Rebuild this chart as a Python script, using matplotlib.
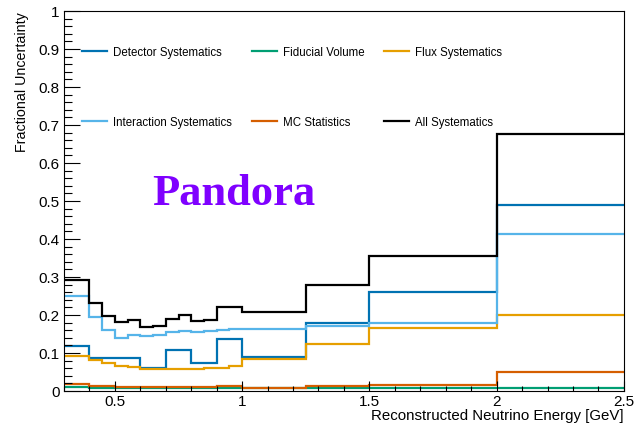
import numpy as np
import matplotlib.pyplot as plt
from matplotlib.lines import Line2D
from matplotlib.ticker import MultipleLocator, FuncFormatter

plt.rcParams['font.family'] = ['Liberation Sans', 'DejaVu Sans']

# bin edges in reconstructed neutrino energy [GeV]
edges = [0.3, 0.4, 0.45, 0.5, 0.55, 0.6, 0.65, 0.7, 0.75, 0.8, 0.85, 0.9, 0.95,
         1.0, 1.25, 1.5, 2.0, 2.5]

detector = [0.119, 0.088, 0.088, 0.086, 0.086, 0.061, 0.061, 0.108, 0.108, 0.074,
            0.074, 0.137, 0.137, 0.090, 0.178, 0.260, 0.489]
fiducial = [0.010, 0.009, 0.009, 0.008, 0.008, 0.008, 0.008, 0.008, 0.008, 0.008,
            0.008, 0.008, 0.008, 0.008, 0.008, 0.008, 0.008]
flux = [0.091, 0.082, 0.074, 0.067, 0.062, 0.058, 0.058, 0.057, 0.057, 0.058,
        0.060, 0.061, 0.065, 0.085, 0.123, 0.165, 0.200]
interaction = [0.249, 0.194, 0.160, 0.139, 0.148, 0.145, 0.147, 0.154, 0.158, 0.156,
               0.158, 0.161, 0.162, 0.163, 0.172, 0.178, 0.414]
mc_stats = [0.019, 0.013, 0.012, 0.011, 0.011, 0.010, 0.010, 0.010, 0.010, 0.011,
            0.011, 0.012, 0.012, 0.008, 0.012, 0.017, 0.051]
all_syst = [0.293, 0.231, 0.198, 0.181, 0.187, 0.169, 0.170, 0.189, 0.200, 0.183,
            0.187, 0.220, 0.220, 0.207, 0.279, 0.356, 0.676]

series = [
    ("Detector Systematics", detector, "#0072B2"),
    ("Fiducial Volume", fiducial, "#009E73"),
    ("Flux Systematics", flux, "#E69F00"),
    ("Interaction Systematics", interaction, "#56B4E9"),
    ("MC Statistics", mc_stats, "#D55E00"),
    ("All Systematics", all_syst, "black"),
]

fig = plt.figure(figsize=(6.34, 4.27), dpi=100)
ax = fig.add_axes([0.101, 0.082, 0.883, 0.890])

handles = []
for name, vals, col in series:
    ax.stairs(vals, edges, color=col, lw=1.6, baseline=None)
    handles.append(Line2D([], [], color=col, lw=1.6, label=name))

ax.set_xlim(0.3, 2.5)
ax.set_ylim(0, 1)

ax.xaxis.set_major_locator(MultipleLocator(0.5))
ax.xaxis.set_minor_locator(MultipleLocator(0.1))
ax.yaxis.set_major_locator(MultipleLocator(0.1))
ax.yaxis.set_minor_locator(MultipleLocator(0.02))
fmt = FuncFormatter(lambda v, p: "%g" % round(v, 3))
ax.xaxis.set_major_formatter(fmt)
ax.yaxis.set_major_formatter(fmt)

ax.tick_params(axis='both', which='both', direction='in', labelsize=11, pad=3)
ax.tick_params(axis='x', which='both', pad=2)
ax.tick_params(axis='x', which='major', length=7.2, width=0.8)
ax.tick_params(axis='x', which='minor', length=3.6, width=0.8)
ax.tick_params(axis='y', which='major', length=11.5, width=0.8)
ax.tick_params(axis='y', which='minor', length=5.8, width=0.8)

ax.set_xlabel("Reconstructed Neutrino Energy [GeV]", fontsize=10.8, loc='right', labelpad=0)
ax.set_ylabel("Fractional Uncertainty", fontsize=10.3, loc='top', labelpad=7)

# legend fills column by column, so order handles to get the two rows right
order = [0, 3, 1, 4, 2, 5]
ax.legend(handles=[handles[i] for i in order], ncol=3, loc='upper left',
          bbox_to_anchor=(0.032, 0.908), frameon=False, fontsize=8.3,
          handlelength=2.2, handletextpad=0.5, columnspacing=1.7,
          labelspacing=5.0, borderpad=0, borderaxespad=0)

ax.text(0.304, 0.522, "Pandora", transform=ax.transAxes, ha='center', va='center',
        fontsize=32, fontweight='bold', family='Liberation Serif', color='#7f00ff')

fig.savefig("out.png", dpi=100)
